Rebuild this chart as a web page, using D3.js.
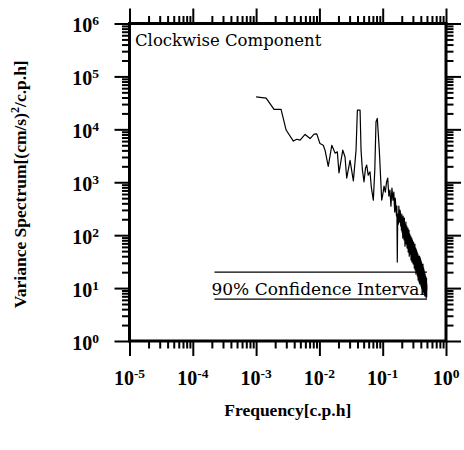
<!DOCTYPE html>
<html>
<head>
<meta charset="utf-8">
<script src="https://cdn.jsdelivr.net/npm/d3@7"></script>
<style>
  html, body { margin: 0; padding: 0; background: #fff; }
  svg { display: block; }
</style>
</head>
<body>
<svg id="chart" width="464" height="450"></svg>
<script>
// ---------------- data ----------------
const freq = [
  0.00100, 0.00144, 0.00192, 0.00248, 0.00298, 0.00388, 0.00439, 0.00495, 0.00594, 0.00713,
  0.00824, 0.00908, 0.0102, 0.0115, 0.0123, 0.0138, 0.0157, 0.0177, 0.0192, 0.0204,
  0.0234, 0.0254, 0.0270, 0.0305, 0.0344, 0.0379, 0.0398, 0.0439, 0.0455, 0.0478,
  0.0507, 0.0535, 0.0559, 0.0590, 0.0630, 0.0660, 0.0711, 0.0750, 0.0784, 0.0822,
  0.0884, 0.0964,
  0.100, 0.105, 0.110, 0.115, 0.120, 0.125, 0.130, 0.135, 0.140, 0.145,
  0.1500, 0.1525, 0.1550, 0.1575, 0.1600, 0.1625, 0.1650, 0.1675, 0.1700, 0.1725,
  0.1750, 0.1775, 0.1800, 0.1825, 0.1850, 0.1875, 0.1900, 0.1925, 0.1950, 0.1975,
  0.2000, 0.2025, 0.2050, 0.2075, 0.2100, 0.2125, 0.2150, 0.2175, 0.2200, 0.2225,
  0.2250, 0.2275, 0.2300, 0.2325, 0.2350, 0.2375, 0.2400, 0.2425, 0.2450, 0.2475,
  0.2500, 0.2525, 0.2550, 0.2575, 0.2600, 0.2625, 0.2650, 0.2675, 0.2700, 0.2725,
  0.2750, 0.2775, 0.2800, 0.2825, 0.2850, 0.2875, 0.2900, 0.2925, 0.2950, 0.2975,
  0.3000, 0.3025, 0.3050, 0.3075, 0.3100, 0.3125, 0.3150, 0.3175, 0.3200, 0.3225,
  0.3250, 0.3275, 0.3300, 0.3325, 0.3350, 0.3375, 0.3400, 0.3425, 0.3450, 0.3475,
  0.3500, 0.3525, 0.3550, 0.3575, 0.3600, 0.3625, 0.3650, 0.3675, 0.3700, 0.3725,
  0.3750, 0.3775, 0.3800, 0.3825, 0.3850, 0.3875, 0.3900, 0.3925, 0.3950, 0.3975,
  0.4000, 0.4025, 0.4050, 0.4075, 0.4100, 0.4125, 0.4150, 0.4175, 0.4200, 0.4225,
  0.4250, 0.4275, 0.4300, 0.4325, 0.4350, 0.4375, 0.4400, 0.4425, 0.4450, 0.4475,
  0.4500, 0.4525, 0.4550, 0.4575, 0.4600, 0.4625, 0.4650, 0.4675, 0.4700, 0.4725,
  0.4750, 0.4775, 0.4800, 0.4825, 0.4850, 0.4875, 0.4900, 0.4925, 0.4950, 0.4975,
  0.5000
];
const spectrum = [
  41000, 38800, 23800, 23800, 9700, 6000, 6500, 6250, 8000, 6700,
  8100, 8200, 5400, 5000, 4000, 2000, 5000, 3550, 3750, 1500,
  4050, 3000, 1200, 2600, 1060, 4000, 23000, 23000, 4000, 1700,
  1020, 1850, 2110, 1365, 1575, 820, 460, 1700, 13860, 16070,
  4050, 460,
  572, 846, 650, 1007, 1198, 548, 711, 354, 775, 460,
  650, 387, 273, 502, 404, 298, 230, 354, 31, 193,
  250, 162, 354, 210, 177, 298, 273, 149, 210, 125,
  250, 114, 193, 88, 230, 130, 177, 81, 210, 96,
  62, 162, 88, 177, 68, 125, 149, 57, 114, 74,
  136, 48, 96, 62, 125, 40, 81, 105, 44, 88,
  52, 96, 34, 74, 44, 88, 31, 62, 81, 37,
  68, 28.5, 52, 74, 31, 57, 24, 62, 37, 68,
  22, 52, 31, 57, 18.4, 44, 26, 52, 20, 40,
  48, 16.9, 37, 22, 44, 14.2, 31, 40, 15.5, 34,
  13, 37, 20, 40, 11.9, 28.5, 16.9, 37, 13, 26,
  34, 10.9, 24, 14.2, 31, 10, 22, 28.5, 11.9, 26,
  9.2, 24, 13, 28.5, 8.4, 20, 10.9, 24, 9.2, 18.4,
  22, 7.7, 16.9, 10, 20, 7.1, 14.2, 18.4, 8.4, 15.5,
  7.1, 16.9, 9.2, 14.2, 6.5, 13, 7.7, 15.5, 6.8, 11.9,
  9.2
];
const xDomain = [1e-5, 1];
const yDomain = [1, 1e6];
const xMajorExp = [-5, -4, -3, -2, -1, 0];
const yMajorExp = [0, 1, 2, 3, 4, 5, 6];
const ciFreq = [2.2e-4, 0.5];
const ciBounds = [6.2, 20];
const titleText = "Clockwise Component";
const ciText = "90% Confidence Interval";
const xLabel = "Frequency[c.p.h]";
const yLabelMain = "Variance Spectrum[(cm/s)";
const yLabelSup = "2";
const yLabelTail = "/c.p.h]";

// ---------------- layout ----------------
const svg = d3.select("#chart");
const L = 129.5, R = 446, T = 23.5, B = 341;
const x = d3.scaleLog().domain(xDomain).range([L, R]);
const y = d3.scaleLog().domain(yDomain).range([B, T]);

const serif = "'Liberation Serif', 'Times New Roman', serif";
const serif2 = "'DejaVu Serif', serif";

function allTicks(domain) {
  const out = [];
  const e0 = Math.round(Math.log10(domain[0])), e1 = Math.round(Math.log10(domain[1]));
  for (let e = e0; e <= e1; e++) {
    for (let m = 1; m <= 9; m++) {
      if (e === e1 && m > 1) break;
      out.push(m * Math.pow(10, e));
    }
  }
  return out;
}
const isMajor = v => Math.abs(Math.log10(v) - Math.round(Math.log10(v))) < 1e-9;
const MAJ = 15, MIN = 7.5;

function styleAxis(g, sign, horiz) {
  g.select(".domain").remove();
  g.selectAll(".tick text").remove();
  g.selectAll(".tick line")
    .attr("stroke", "#000")
    .attr("stroke-width", 2)
    .each(function(d) {
      const len = (isMajor(d) ? MAJ : MIN) * sign;
      if (horiz) d3.select(this).attr("y2", len).attr("x2", 0);
      else d3.select(this).attr("x2", len).attr("y2", 0);
    });
}

const xt = allTicks(xDomain), yt = allTicks(yDomain);
svg.append("g").attr("transform", `translate(0,${B})`)
  .call(d3.axisBottom(x).tickValues(xt).tickFormat(""))
  .call(g => styleAxis(g, 1, true));
svg.append("g").attr("transform", `translate(0,${T})`)
  .call(d3.axisTop(x).tickValues(xt).tickFormat(""))
  .call(g => styleAxis(g, -1, true));
svg.append("g").attr("transform", `translate(${L},0)`)
  .call(d3.axisLeft(y).tickValues(yt).tickFormat(""))
  .call(g => styleAxis(g, -1, false));
svg.append("g").attr("transform", `translate(${R},0)`)
  .call(d3.axisRight(y).tickValues(yt).tickFormat(""))
  .call(g => styleAxis(g, 1, false));

// frame
svg.append("rect")
  .attr("x", L).attr("y", T).attr("width", R - L).attr("height", B - T)
  .attr("fill", "none").attr("stroke", "#000").attr("stroke-width", 3);

// tick labels
const xl = svg.append("g").attr("font-family", serif).attr("font-weight", "bold").attr("fill", "#000");
xMajorExp.forEach(e => {
  const t = xl.append("text")
    .attr("x", x(Math.pow(10, e))).attr("y", 385)
    .attr("text-anchor", "middle").attr("font-size", 20);
  t.append("tspan").text("10");
  t.append("tspan").attr("font-size", 13.5).attr("dy", -7).text(String(e));
});
const yl = svg.append("g").attr("font-family", serif).attr("font-weight", "bold").attr("fill", "#000");
yMajorExp.forEach(e => {
  const t = yl.append("text")
    .attr("x", 99).attr("y", y(Math.pow(10, e)) + 8.5)
    .attr("text-anchor", "end").attr("font-size", 20);
  t.append("tspan").text("10");
  t.append("tspan").attr("font-size", 13.5).attr("dy", -7).text(String(e));
});

// axis titles
svg.append("text")
  .attr("x", (L + R) / 2).attr("y", 416)
  .attr("text-anchor", "middle")
  .attr("font-family", serif).attr("font-weight", "bold").attr("font-size", 17.5)
  .text(xLabel);
const yt2 = svg.append("text")
  .attr("transform", `translate(26,${(T + B) / 2 + 2}) rotate(-90)`)
  .attr("text-anchor", "middle")
  .attr("font-family", serif).attr("font-weight", "bold").attr("font-size", 17.5);
yt2.append("tspan").text(yLabelMain);
yt2.append("tspan").attr("font-size", 12).attr("dy", -7).text(yLabelSup);
yt2.append("tspan").attr("dy", 7).text(yLabelTail);

// in-plot title
svg.append("text")
  .attr("x", 135).attr("y", 46)
  .attr("font-family", serif2).attr("font-size", 16.5).attr("fill", "#000")
  .text(titleText);

// confidence interval
ciBounds.forEach(v => {
  svg.append("line")
    .attr("x1", x(ciFreq[0])).attr("x2", x(ciFreq[1]))
    .attr("y1", y(v)).attr("y2", y(v))
    .attr("stroke", "#000").attr("stroke-width", 1.3);
});
svg.append("text")
  .attr("x", x(ciFreq[0]) - 3).attr("y", 295)
  .attr("font-family", serif2).attr("font-size", 17).attr("fill", "#000")
  .text(ciText);

// spectrum line
const pts = freq.map((f, i) => [f, spectrum[i]]);
svg.append("path")
  .datum(pts)
  .attr("fill", "none").attr("stroke", "#000").attr("stroke-width", 1.2)
  .attr("stroke-linejoin", "round")
  .attr("d", d3.line().x(d => x(d[0])).y(d => y(d[1])));
</script>
</body>
</html>
